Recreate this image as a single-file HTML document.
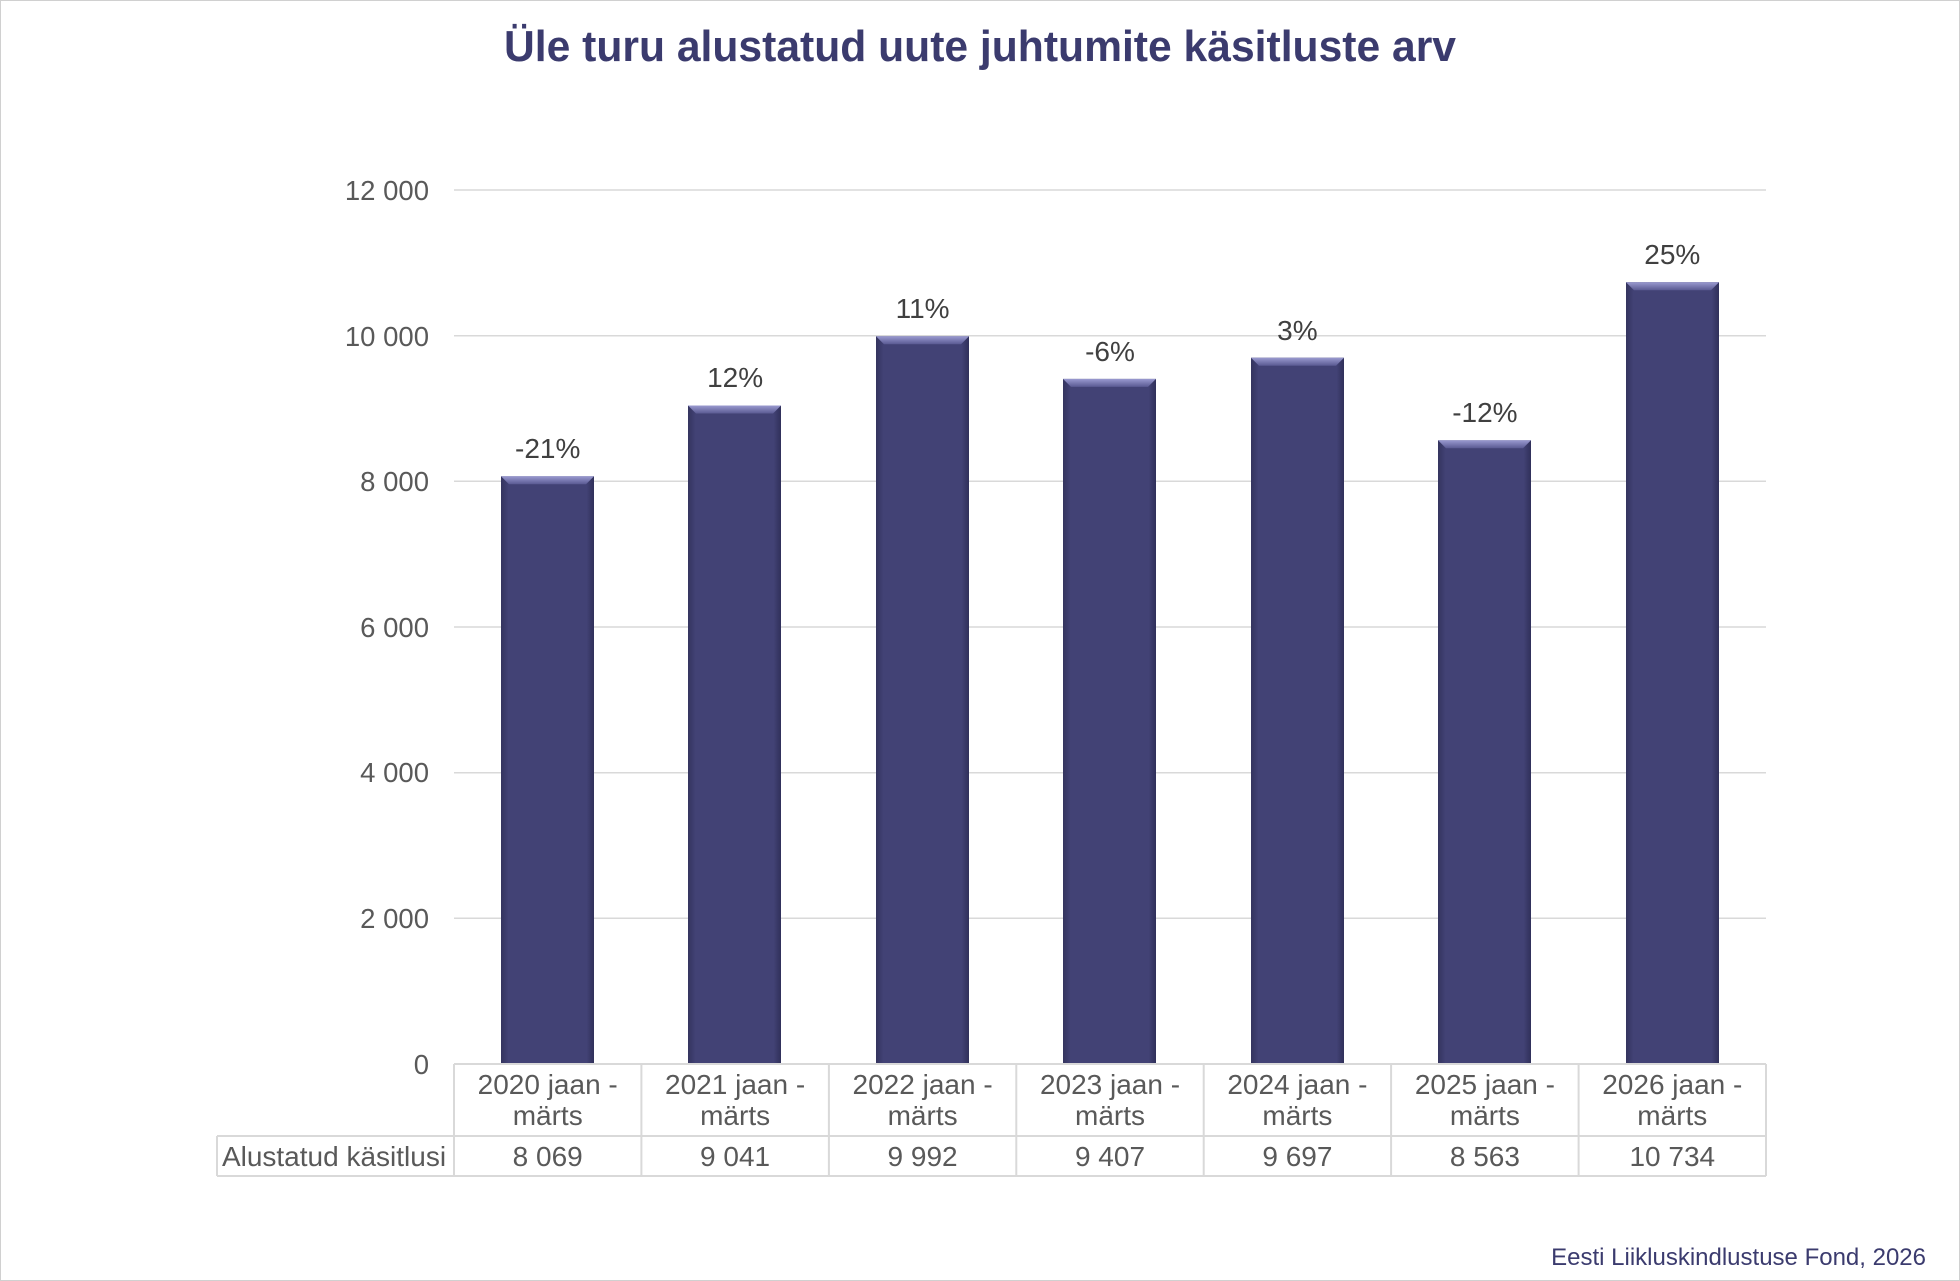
<!DOCTYPE html>
<html><head><meta charset="utf-8"><style>
html,body{margin:0;padding:0;background:#fff}
svg{display:block}
text{font-family:"Liberation Sans",Arial,sans-serif}
</style></head><body>
<svg width="1960" height="1281" viewBox="0 0 1960 1281" xmlns="http://www.w3.org/2000/svg">
<defs>
<linearGradient id="top" x1="0" y1="0" x2="0" y2="1">
<stop offset="0" stop-color="#9a9ad0"/><stop offset="1" stop-color="#5a5a92"/>
</linearGradient>
<linearGradient id="side" x1="0" y1="0" x2="1" y2="0">
<stop offset="0" stop-color="#34345e"/><stop offset="0.08" stop-color="#424275"/><stop offset="0.92" stop-color="#424275"/><stop offset="1" stop-color="#30305a"/>
</linearGradient>
</defs>
<rect x="0.5" y="0.5" width="1959" height="1280" fill="#fff" stroke="#d0d0d0"/>
<text x="980" y="61" text-anchor="middle" font-size="44" font-weight="bold" fill="#3b3b6e" textLength="952" lengthAdjust="spacingAndGlyphs">Üle turu alustatud uute juhtumite käsitluste arv</text>
<g stroke="#d9d9d9" stroke-width="1.5">
<line x1="454" y1="190" x2="1766" y2="190"/>
<line x1="454" y1="335.7" x2="1766" y2="335.7"/>
<line x1="454" y1="481.3" x2="1766" y2="481.3"/>
<line x1="454" y1="627" x2="1766" y2="627"/>
<line x1="454" y1="772.7" x2="1766" y2="772.7"/>
<line x1="454" y1="918.3" x2="1766" y2="918.3"/>
</g>
<g font-size="27.5" fill="#595959" text-anchor="end">
<text x="429" y="200">12 000</text>
<text x="429" y="346">10 000</text>
<text x="429" y="491">8 000</text>
<text x="429" y="637">6 000</text>
<text x="429" y="782">4 000</text>
<text x="429" y="928">2 000</text>
<text x="429" y="1074">0</text>
</g>
<g id="bars">
<g transform="translate(501,476.3)"><rect width="93" height="587.7" fill="url(#side)"/><polygon points="0,0 93,0 85,8 8,8" fill="url(#top)"/></g>
<g transform="translate(688,405.5)"><rect width="93" height="658.5" fill="url(#side)"/><polygon points="0,0 93,0 85,8 8,8" fill="url(#top)"/></g>
<g transform="translate(876,336.3)"><rect width="93" height="727.7" fill="url(#side)"/><polygon points="0,0 93,0 85,8 8,8" fill="url(#top)"/></g>
<g transform="translate(1063,378.9)"><rect width="93" height="685.1" fill="url(#side)"/><polygon points="0,0 93,0 85,8 8,8" fill="url(#top)"/></g>
<g transform="translate(1251,357.7)"><rect width="93" height="706.3" fill="url(#side)"/><polygon points="0,0 93,0 85,8 8,8" fill="url(#top)"/></g>
<g transform="translate(1438,440.3)"><rect width="93" height="623.7" fill="url(#side)"/><polygon points="0,0 93,0 85,8 8,8" fill="url(#top)"/></g>
<g transform="translate(1626,282.2)"><rect width="93" height="781.8" fill="url(#side)"/><polygon points="0,0 93,0 85,8 8,8" fill="url(#top)"/></g>
</g>
<g font-size="28" fill="#404040" text-anchor="middle">
<text x="547.7" y="458">-21%</text>
<text x="735.1" y="387">12%</text>
<text x="922.6" y="318">11%</text>
<text x="1110" y="361">-6%</text>
<text x="1297.4" y="340">3%</text>
<text x="1484.9" y="422">-12%</text>
<text x="1672.3" y="264">25%</text>
</g>
<g stroke="#d9d9d9" stroke-width="2" fill="none">
<line x1="454" y1="1064" x2="1766" y2="1064"/>
<line x1="217" y1="1136" x2="1766" y2="1136"/>
<line x1="217" y1="1176" x2="1766" y2="1176"/>
<line x1="217" y1="1136" x2="217" y2="1176"/>
<line x1="454" y1="1064" x2="454" y2="1176"/>
<line x1="641.4" y1="1064" x2="641.4" y2="1176"/>
<line x1="828.9" y1="1064" x2="828.9" y2="1176"/>
<line x1="1016.3" y1="1064" x2="1016.3" y2="1176"/>
<line x1="1203.7" y1="1064" x2="1203.7" y2="1176"/>
<line x1="1391.1" y1="1064" x2="1391.1" y2="1176"/>
<line x1="1578.6" y1="1064" x2="1578.6" y2="1176"/>
<line x1="1766" y1="1064" x2="1766" y2="1176"/>
</g>
<g font-size="28" fill="#595959" text-anchor="middle">
<text x="547.7" y="1094">2020 jaan -</text><text x="547.7" y="1125">märts</text>
<text x="735.1" y="1094">2021 jaan -</text><text x="735.1" y="1125">märts</text>
<text x="922.6" y="1094">2022 jaan -</text><text x="922.6" y="1125">märts</text>
<text x="1110" y="1094">2023 jaan -</text><text x="1110" y="1125">märts</text>
<text x="1297.4" y="1094">2024 jaan -</text><text x="1297.4" y="1125">märts</text>
<text x="1484.9" y="1094">2025 jaan -</text><text x="1484.9" y="1125">märts</text>
<text x="1672.3" y="1094">2026 jaan -</text><text x="1672.3" y="1125">märts</text>
<text x="547.7" y="1166">8 069</text>
<text x="735.1" y="1166">9 041</text>
<text x="922.6" y="1166">9 992</text>
<text x="1110" y="1166">9 407</text>
<text x="1297.4" y="1166">9 697</text>
<text x="1484.9" y="1166">8 563</text>
<text x="1672.3" y="1166">10 734</text>
<text x="334" y="1166">Alustatud käsitlusi</text>
</g>
<text x="1926" y="1265" text-anchor="end" font-size="24" fill="#3b3b6e">Eesti Liikluskindlustuse Fond, 2026</text>
</svg>
</body></html>
